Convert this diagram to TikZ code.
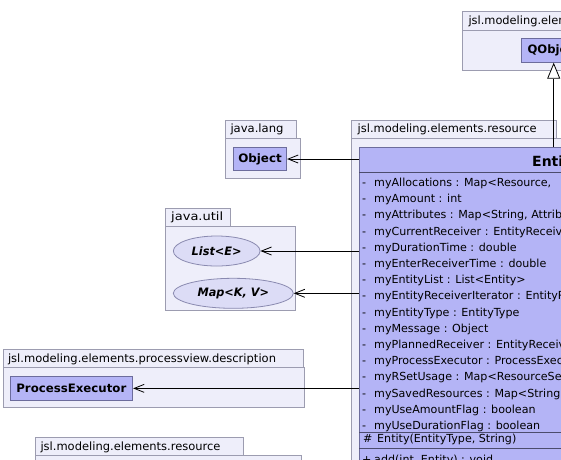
\documentclass[tikz,border=0pt]{standalone}
\usepackage{graphicx}
\usepackage{fontspec}
\setmainfont{DejaVu Sans}
\usetikzlibrary{arrows.meta,shapes.geometric}
\definecolor{pkgfill}{HTML}{EEEEFA}
\definecolor{pkgdraw}{HTML}{9C9CB0}
\definecolor{clsfill}{HTML}{B4B4F6}
\definecolor{clsdraw}{HTML}{6C6C9C}
\definecolor{ellfill}{HTML}{DCDCF6}
\definecolor{elldraw}{HTML}{8A8AB0}
\newcommand{\mkfit}[2]{\resizebox{#1pt}{\height}{#2}}
\begin{document}
\begin{tikzpicture}[x=1pt,y=-1pt,
  pkg/.style={draw=pkgdraw,fill=pkgfill,line width=0.8pt},
  pkglabel/.style={anchor=base west,inner sep=0pt,font=\fontsize{11.4}{13}\selectfont},
  cls/.style={draw=clsdraw,fill=clsfill,line width=0.8pt,inner sep=0pt},
  clsname/.style={font=\fontsize{11.6}{13}\selectfont\bfseries},
  iface/.style={ellipse,draw=elldraw,fill=ellfill,line width=0.8pt,inner sep=0pt,font=\fontsize{11.6}{13}\selectfont\bfseries\itshape},
  attr/.style={anchor=base west,inner sep=0pt,font=\fontsize{11.1}{13}\selectfont},
  sep/.style={draw=clsdraw!70!black,line width=0.8pt},
  assoc/.style={-{Straight Barb[length=10pt,width=8pt]},line width=0.8pt},
  gen/.style={-{Triangle[open,length=16pt,width=13pt,fill=white]},line width=0.8pt}]
\useasboundingbox (0,0) rectangle (561,459);
\clip (0,0) rectangle (561,459);

% ---------- packages ----------
% top right
\draw[pkg] (462.3,11.7) rectangle (700,30);
\draw[pkg] (462.3,30) rectangle (700,70);
\node[pkglabel] (pkgtop) at (468.3,24.2) {jsl.modeling.elements};
% java.lang
\draw[pkg] (225,120.3) rectangle (296.7,138);
\draw[pkg] (225,138) rectangle (300.7,178.3);
\node[pkglabel] (pkglang) at (230.3,132.7) {\mkfit{53}{java.lang}};
% entity package
\draw[pkg] (351.7,120.3) rectangle (556.7,138);
\draw[pkg] (351.7,138) rectangle (700,600);
\node[pkglabel] (pkgres) at (357.5,132.7) {\mkfit{179}{jsl.modeling.elements.resource}};
% java.util
\draw[pkg] (165,208.3) rectangle (230,226);
\draw[pkg] (165,226) rectangle (295,310);
\node[pkglabel] (pkgutil) at (171,220.7) {\mkfit{52}{java.util}};
% processview.description
\draw[pkg] (3.3,349.3) rectangle (303.3,367.7);
\draw[pkg] (3.3,367.7) rectangle (304.3,407.7);
\node[pkglabel] (pkgpv) at (7.8,362) {\mkfit{268}{jsl.modeling.elements.processview.description}};
% bottom resource package
\draw[pkg] (35,437.3) rectangle (243.3,455.5);
\draw[pkg] (35,455.5) rectangle (301.7,600);
\node[pkglabel] (pkgres2) at (40.3,450) {\mkfit{180}{jsl.modeling.elements.resource}};

% ---------- classes ----------
\node[cls,clsname,minimum width=64,minimum height=24] (qobject) at (553.7,50.3) {QObject};
\node[cls,clsname,minimum width=53.4,minimum height=23.4] (object) at (260,159) {\mkfit{43.5}{Object}};
\node[iface,minimum width=86.7,minimum height=30] (list) at (216.7,251) {\mkfit{50}{List<E>}};
\node[iface,minimum width=120,minimum height=30] (map) at (233.3,293.3) {\mkfit{71.5}{Map<K, V>}};
\node[cls,clsname,minimum width=122.7,minimum height=23.3] (pexec) at (71.35,388.35) {\mkfit{110}{ProcessExecutor}};

% Entity
\node[cls,anchor=north west,minimum width=500,minimum height=400] (entity) at (359,147) {};
\node[anchor=base west,inner sep=0pt,font=\fontsize{14}{16}\selectfont\bfseries] (etitle) at (532,166.5) {Entity};
\draw[sep] (359,172.5) -- (700,172.5);
\foreach \t [count=\i from 0] in {
  {myAllocations : Map<Resource,},
  {myAmount : int},
  {myAttributes : Map<String, Attrib},
  {myCurrentReceiver : EntityReceiv},
  {myDurationTime : double},
  {myEnterReceiverTime : double},
  {myEntityList : List<Entity>},
  {myEntityReceiverIterator : EntityR},
  {myEntityType : EntityType},
  {myMessage : Object},
  {myPlannedReceiver : EntityReceiv},
  {myProcessExecutor : ProcessExec},
  {myRSetUsage : Map<ResourceSet},
  {mySavedResources : Map<String,},
  {myUseAmountFlag : boolean},
  {myUseDurationFlag : boolean}}
  \node[attr] (attr\i) at (362,186.4+16.2*\i) {\makebox[12pt][l]{-}\t};
\draw[sep] (359,432) -- (700,432);
\node[attr] (ctor) at (363,442.7) {\makebox[14pt][l]{\#}Entity(EntityType, String)};
\draw[sep] (359,448.5) -- (700,448.5);
\node[attr] (madd) at (362,463) {\makebox[12pt][l]{+}add(int, Entity) : void};

% ---------- connectors ----------
\draw[gen] (entity.north -| qobject.south) -- (qobject.south);
\draw[assoc] (entity.west |- object.east) -- (object.east);
\draw[assoc] (entity.west |- list.east) -- (list.east);
\draw[assoc] (entity.west |- map.east) -- (map.east);
\draw[assoc] (entity.west |- pexec.east) -- (pexec.east);
\end{tikzpicture}
\end{document}
